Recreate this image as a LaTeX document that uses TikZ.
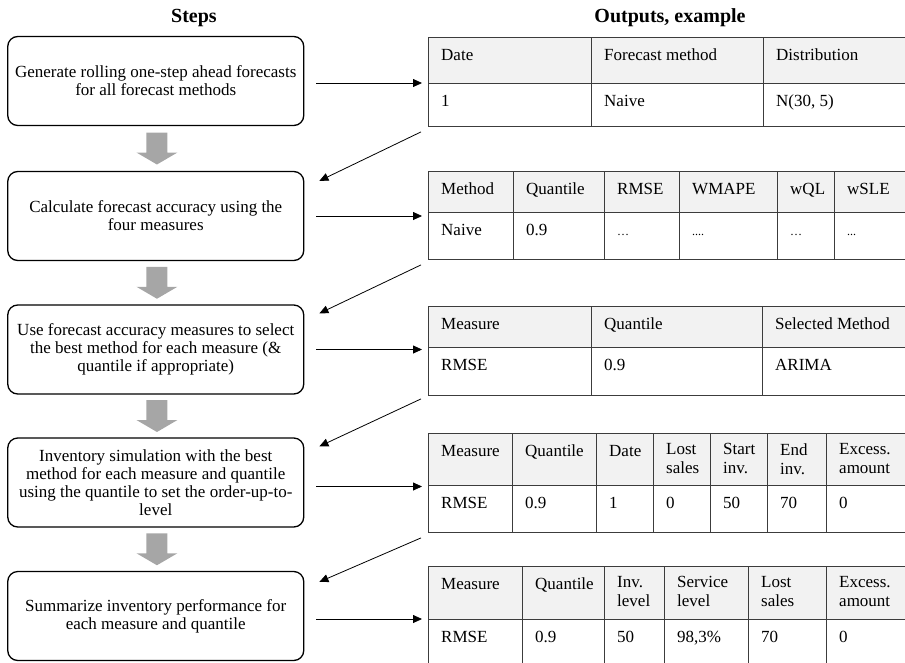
\documentclass[tikz,border=0pt]{standalone}
\usepackage{fontspec}
\setmainfont{Liberation Serif}
\usetikzlibrary{arrows.meta,calc}

\definecolor{hdrgray}{HTML}{F2F2F2}
\definecolor{blockgray}{HTML}{A6A6A6}
\definecolor{gridline}{HTML}{3C3C3C}

\tikzset{
  stepbox/.style={draw=black, line width=1.3pt, rounded corners=10pt,
    minimum width=296pt, minimum height=89pt, align=center, inner sep=0pt,
    font=\fontsize{17}{18}\selectfont},
  heading/.style={font=\fontsize{20}{22}\selectfont\bfseries, inner sep=0pt},
  tabframe/.style={draw=gridline, line width=0.9pt, minimum width=492pt,
    anchor=north west, inner sep=0pt},
  tabline/.style={draw=gridline, line width=0.9pt},
  cell/.style={anchor=north west, inner sep=0pt, align=left,
    font=\fontsize{17}{19}\selectfont, execute at begin node=\strut},
  conn/.style={draw=black, line width=0.8pt, -{Triangle[length=9pt,width=8pt]}},
  blockarrow/.style={fill=blockgray}
}

% #1 name, #2 top, #3 header bottom, #4 bottom, #5 inner column lines
\newcommand\outtable[5]{%
  \fill[hdrgray] (428,#2) rectangle (920,#3);
  \draw[tabline] (428,#3) -- (920,#3);
  \foreach \cx in {#5} \draw[tabline] (\cx,#2) -- (\cx,#4);
  \node[tabframe, minimum height={#4pt-#2pt}] (#1) at (428,#2) {};
}
% #1 name prefix, #2 row top, #3 list of x/text
\newcommand\tabrow[3]{%
  \foreach \cx/\txt [count=\k] in {#3}
    \node[cell] (#1\k) at (\cx+13,#2+10) {\txt};
}
% grey block arrow between two step boxes
\newcommand\blockdown[2]{%
  \coordinate (g) at ($(#1.south)!0.5!(#2.north)+(1.2pt,0)$);
  \fill[blockarrow] ([shift={(-10.5,-16)}]g) -- ([shift={(10.5,-16)}]g)
    -- ([shift={(10.5,4)}]g) -- ([shift={(20.5,4)}]g) -- ([shift={(0,16)}]g)
    -- ([shift={(-20.5,4)}]g) -- ([shift={(-10.5,4)}]g) -- cycle;
}

\begin{document}
\begin{tikzpicture}[x=1pt,y=-1pt]
\useasboundingbox (0,0) rectangle (905,662);
\clip (0,0) rectangle (905,662);

% column headings
\node[heading] (hsteps) at (194,18) {Steps};
\node[heading] (hout) at (670,18) {Outputs, example};

% process steps
\node[stepbox] (s1) at (155.75,81)
  {Generate rolling one-step ahead forecasts\\for all forecast methods};
\node[stepbox] (s2) at (155.75,216)
  {Calculate forecast accuracy using the\\four measures};
\node[stepbox] (s3) at (155.75,349.5)
  {Use forecast accuracy measures to select\\the best method for each measure (\&\\quantile if appropriate)};
\node[stepbox] (s4) at (155.75,482.5)
  {Inventory simulation with the best\\method for each measure and quantile\\using the quantile to set the order-up-to-\\level};
\node[stepbox] (s5) at (155.75,616)
  {Summarize inventory performance for\\each measure and quantile};

\blockdown{s1}{s2}
\blockdown{s2}{s3}
\blockdown{s3}{s4}
\blockdown{s4}{s5}

% example outputs
\outtable{t1}{37}{83}{126}{591,763}
\tabrow{t1h}{37}{428/Date, 591/Forecast method, 763/Distribution}
\tabrow{t1b}{83}{428/1, 591/Naive, 763/{N(30, 5)}}

\outtable{t2}{171}{212}{259}{513,604,679,777,834}
\tabrow{t2h}{171}{428/Method, 513/Quantile, 604/RMSE, 679/WMAPE, 777/wQL, 834/wSLE}
\tabrow{t2b}{212}{428/Naive, 513/0.9, 604/{\fontsize{12}{14}\selectfont …}, 679/{\fontsize{12}{14}\selectfont ....}, 777/{\fontsize{12}{14}\selectfont …}, 834/{\fontsize{12}{14}\selectfont ...}}

\outtable{t3}{306}{347}{395}{591,762}
\tabrow{t3h}{306}{428/Measure, 591/Quantile, 762/Selected Method}
\tabrow{t3b}{347}{428/RMSE, 591/0.9, 762/ARIMA}

\outtable{t4}{433}{485}{532}{512,596,653,710,767,826}
\tabrow{t4h}{433}{428/Measure, 512/Quantile, 596/Date, 653/{Lost\\sales}, 710/{Start\\inv.}, 767/{End\\inv.}, 826/{Excess.\\amount}}
\tabrow{t4b}{485}{428/RMSE, 512/0.9, 596/1, 653/0, 710/50, 767/70, 826/0}

\outtable{t5}{566}{619}{680}{522,604,664,748,826}
\tabrow{t5h}{566}{428/Measure, 522/Quantile, 604/{Inv.\\level}, 664/{Service\\level}, 748/{Lost\\sales}, 826/{Excess.\\amount}}
\tabrow{t5b}{619}{428/RMSE, 522/0.9, 604/50, 664/{98,3\%}, 748/70, 826/0}

% step -> output
\draw[conn, shorten <=12pt, shorten >=6pt] ([yshift=-2pt]s1.east) -- ([yshift=-2pt]s1.east -| t1.west);
\draw[conn, shorten <=12pt, shorten >=6pt] (s2.east) -- (s2.east -| t2.west);
\draw[conn, shorten <=12pt, shorten >=6pt] (s3.east) -- (s3.east -| t3.west);
\draw[conn, shorten <=12pt, shorten >=6pt] ([yshift=-4pt]s4.east) -- ([yshift=-4pt]s4.east -| t4.west);
\draw[conn, shorten <=12pt, shorten >=6pt] ([yshift=-3pt]s5.east) -- ([yshift=-3pt]s5.east -| t5.west);

% output -> next step
\draw[conn] ([shift={(-7pt,-5pt)}]t1.south west) -- ([shift={(15pt,-10pt)}]s2.north east);
\draw[conn] ([shift={(-7pt,-5pt)}]t2.south west) -- ([shift={(15pt,-9pt)}]s3.north east);
\draw[conn] ([shift={(-7pt,-3pt)}]t3.south west) -- ([shift={(15pt,-9pt)}]s4.north east);
\draw[conn] ([shift={(-7pt,-5pt)}]t4.south west) -- ([shift={(15pt,-11pt)}]s5.north east);
\end{tikzpicture}
\end{document}
